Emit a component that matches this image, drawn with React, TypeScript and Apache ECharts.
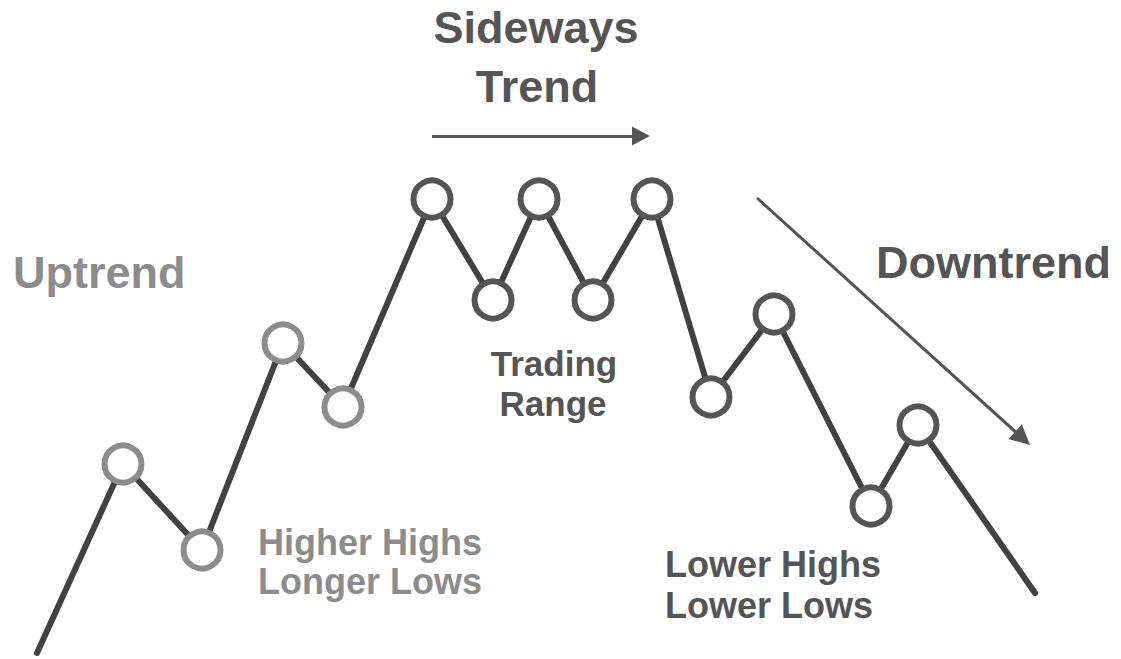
import React, { useEffect, useRef } from "react";
import * as echarts from "echarts";

// Time positions (x) and price levels (y)
const times = [37, 123, 202, 283, 343, 432, 493, 539, 593, 652, 711, 774, 871, 918, 1035];
const prices = [6, 195, 109, 316, 252, 460, 359, 460, 359, 460, 262, 345, 153, 234, 66];
// phase of each point: "end" points carry no marker
const phases = ["end", "up", "up", "up", "up", "side", "side", "side", "side", "side", "down", "down", "down", "down", "end"];

// Trend arrows: [startTime, startPrice, endTime, endPrice]
const sidewaysArrow = [432, 523, 641, 523];
const downArrow = [757, 461, 1022.6, 220.7];

const labelTexts = {
  uptrend: "Uptrend",
  sideways: ["Sideways", "Trend"],
  downtrend: "Downtrend",
  trading: ["Trading", "Range"],
  higher: ["Higher Highs", "Longer Lows"],
  lower: ["Lower Highs", "Lower Lows"],
};

const W = 1121;
const H = 659;
const DARK = "#555555";
const LIGHT = "#8c8c8c";
const FONT = "'Liberation Sans', Arial, Helvetica, sans-serif";

export default function App() {
  const ref = useRef<HTMLDivElement>(null);

  useEffect(() => {
    if (!ref.current) return;
    const chart = echarts.init(ref.current, undefined, { renderer: "svg" });

    const data = times.map((t, i) => {
      const ph = phases[i];
      if (ph === "end") return { value: [t, prices[i]], symbol: "none" };
      return {
        value: [t, prices[i]],
        itemStyle: {
          color: "#ffffff",
          borderColor: ph === "up" ? LIGHT : DARK,
          borderWidth: 6,
        },
      };
    });

    const txt = (
      text: string,
      x: number,
      y: number,
      size: number,
      color: string,
      align: "left" | "center" = "left"
    ) => ({
      type: "text",
      x,
      y,
      silent: true,
      style: {
        text,
        fill: color,
        font: `bold ${size}px ${FONT}`,
        align,
        verticalAlign: "middle",
      },
    });

    chart.setOption({
      animation: false,
      backgroundColor: "#ffffff",
      grid: { left: 0, right: 0, top: 0, bottom: 0 },
      xAxis: { type: "value", min: 0, max: W, show: false },
      yAxis: { type: "value", min: 0, max: H, show: false },
      series: [
        {
          type: "line",
          data,
          clip: false,
          symbol: "circle",
          symbolSize: 37,
          lineStyle: { color: "#424242", width: 6, cap: "round", join: "round" },
          emphasis: { disabled: true },
          z: 3,
        },
        {
          type: "line",
          data: [],
          silent: true,
          markLine: {
            silent: true,
            animation: false,
            symbol: ["none", "triangle"],
            symbolSize: [19, 18],
            label: { show: false },
            lineStyle: { color: DARK, width: 3, type: "solid" },
            emphasis: { disabled: true },
            data: [
              [
                { coord: [sidewaysArrow[0], sidewaysArrow[1]] },
                { coord: [sidewaysArrow[2], sidewaysArrow[3]] },
              ],
              [
                { coord: [downArrow[0], downArrow[1]] },
                { coord: [downArrow[2], downArrow[3]], symbolSize: [20, 20] },
              ],
            ],
          },
        },
      ],
      graphic: [
        txt(labelTexts.uptrend, 13, 272, 45, LIGHT),
        txt(labelTexts.sideways[0], 536, 27, 45, DARK, "center"),
        txt(labelTexts.sideways[1], 537, 86, 45, DARK, "center"),
        txt(labelTexts.downtrend, 876, 262, 45, DARK),
        txt(labelTexts.trading[0], 554, 363, 35, DARK, "center"),
        txt(labelTexts.trading[1], 553, 403, 35, DARK, "center"),
        txt(labelTexts.higher[0], 258, 542, 36, LIGHT),
        txt(labelTexts.higher[1], 258, 581, 36, LIGHT),
        txt(labelTexts.lower[0], 665, 564, 36, DARK),
        txt(labelTexts.lower[1], 665, 605, 36, DARK),
      ],
    });

    return () => chart.dispose();
  }, []);

  return (
    <div
      ref={ref}
      style={{ position: "absolute", left: 0, top: 0, width: W, height: H, background: "#fff" }}
    />
  );
}
